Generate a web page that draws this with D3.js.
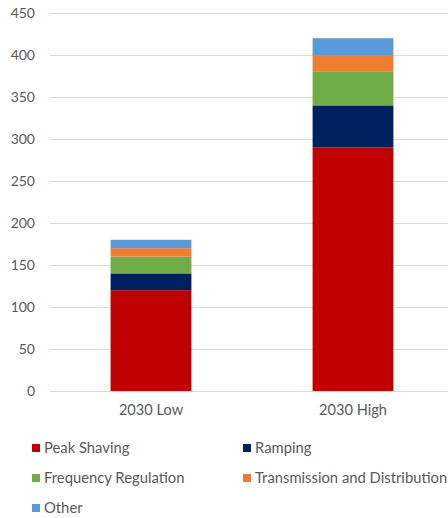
<!DOCTYPE html>
<html>
<head>
<meta charset="utf-8">
<script src="https://cdn.jsdelivr.net/npm/d3@7"></script>
<style>
  html, body { margin: 0; padding: 0; background: #fff; overflow: hidden; }
  svg { display: block; font-family: Lato, "Open Sans", sans-serif; }
</style>
</head>
<body>
<svg id="chart" width="448" height="518"></svg>
<script>
// Storage deployment by application, two 2030 scenarios
const categories = ["2030 Low", "2030 High"];
const seriesNames = ["Peak Shaving", "Ramping", "Frequency Regulation", "Transmission and Distribution", "Other"];
const peakShaving = [120, 290];
const ramping = [20, 50];
const frequencyRegulation = [20, 40];
const transmissionDistribution = [10, 20];
const other = [10, 20];
const yTicks = [0, 50, 100, 150, 200, 250, 300, 350, 400, 450];
const colors = ["#C00000", "#002060", "#70AD47", "#ED7D31", "#5B9BD5"];

const seriesValues = [peakShaving, ramping, frequencyRegulation, transmissionDistribution, other];
const rows = categories.map((c, i) => {
  const r = { category: c };
  seriesNames.forEach((s, j) => { r[s] = seriesValues[j][i]; });
  return r;
});

const svg = d3.select("#chart");
const plot = { left: 50, right: 454, top: 13, bottom: 391 };

const x = d3.scaleBand().domain(categories).range([plot.left, plot.right]).paddingInner(0.6).paddingOuter(0.3);
const y = d3.scaleLinear().domain([0, 450]).range([plot.bottom, plot.top]);

// horizontal gridlines
svg.append("g")
  .selectAll("line")
  .data(yTicks)
  .join("line")
  .attr("x1", plot.left).attr("x2", 448)
  .attr("y1", d => Math.round(y(d)) + 0.5).attr("y2", d => Math.round(y(d)) + 0.5)
  .attr("stroke", "#D9D9D9").attr("stroke-width", 1);

// y axis labels
const yAxis = d3.axisLeft(y).tickValues(yTicks).tickSize(0).tickPadding(15);
const gy = svg.append("g").attr("transform", `translate(${plot.left},0)`).call(yAxis);
gy.select(".domain").remove();
gy.selectAll("text").attr("fill", "#595959").style("font-size", "14px").style("font-family", "Lato, sans-serif");

// stacked bars
const stack = d3.stack().keys(seriesNames);
const layers = stack(rows);
svg.append("g")
  .selectAll("g")
  .data(layers)
  .join("g")
  .attr("fill", (d, i) => colors[i])
  .selectAll("rect")
  .data(d => d)
  .join("rect")
  .attr("x", d => x(d.data.category))
  .attr("width", x.bandwidth())
  .attr("y", d => y(d[1]))
  .attr("height", d => y(d[0]) - y(d[1]));

// x axis labels
const xAxis = d3.axisBottom(x).tickSize(0).tickPadding(14);
const gx = svg.append("g").attr("transform", `translate(0,${plot.bottom})`).call(xAxis);
gx.select(".domain").remove();
gx.selectAll("text").attr("fill", "#595959").style("font-size", "14.6px").style("font-family", "Lato, sans-serif");

// legend
const legendPos = [[32, 448], [243, 448], [32, 478], [243, 478], [32, 508]];
const lg = svg.append("g").selectAll("g").data(seriesNames).join("g")
  .attr("transform", (d, i) => `translate(${legendPos[i][0]},${legendPos[i][1]})`);
lg.append("rect").attr("x", 0).attr("y", -4).attr("width", 8).attr("height", 8)
  .attr("fill", (d, i) => colors[i]);
lg.append("text").attr("x", 12).attr("y", 0).attr("dy", "0.35em")
  .attr("fill", "#595959").style("font-size", "14.8px").text(d => d);
</script>
</body>
</html>
